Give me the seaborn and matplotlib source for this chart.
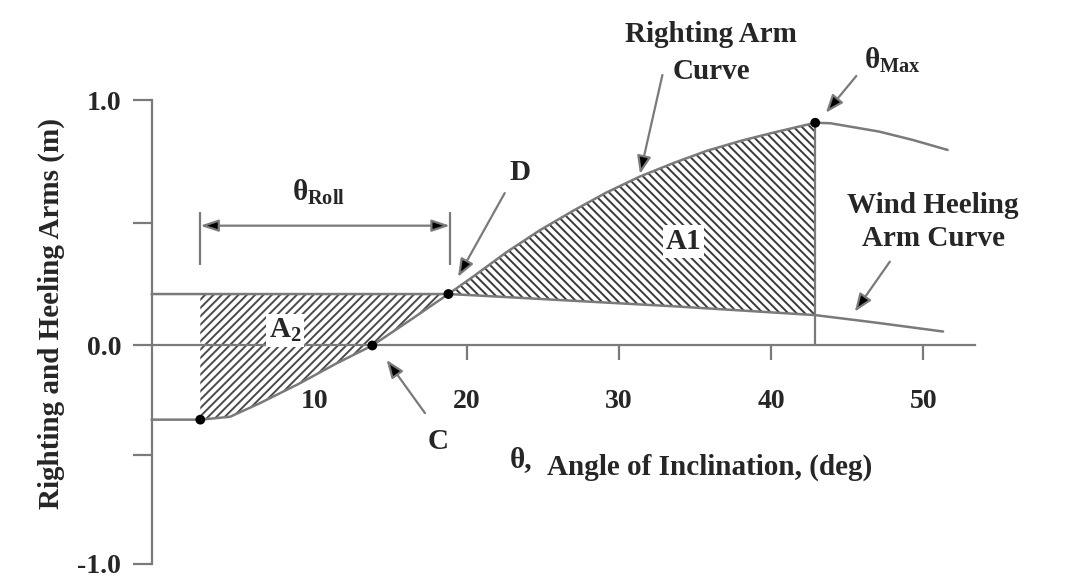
import numpy as np
import seaborn as sns
import matplotlib.pyplot as plt

# righting arm curve (deg, m)
ra_angle = [-0.7, 2.5, 4.45, 6.4, 9.05, 11.45, 13.8, 16.3, 18.8, 20.4, 22.6, 24.8, 27.0, 29.2,
            31.4, 33.6, 35.8, 38.0, 40.1, 42.9, 43.9, 47.1, 49.3, 51.6]
ra_arm = [-0.34, -0.34, -0.327, -0.265, -0.173, -0.082, 0.0, 0.104, 0.21, 0.28, 0.38, 0.47,
          0.55, 0.625, 0.69, 0.745, 0.795, 0.835, 0.868, 0.909, 0.907, 0.873, 0.839, 0.798]

# wind heeling arm curve
wh_angle = [-0.7, 18.8, 20.4, 24.8, 29.2, 33.6, 38.0, 42.9, 46.8, 51.3]
wh_arm = [0.21, 0.21, 0.205, 0.19, 0.175, 0.16, 0.143, 0.124, 0.094, 0.057]

# marked points: start of roll, C, D, theta max
pt_angle = [2.5, 13.8, 18.8, 42.9]
pt_arm = [-0.34, 0.0, 0.21, 0.909]

roll_from, roll_to = 2.5, 18.9
theta_max = 42.9

x_ticks = [10, 20, 30, 40, 50]
y_ticks = [-1.0, -0.5, 0.0, 0.5, 1.0]
y_tick_labels = ["-1.0", "", "0.0", "", "1.0"]

sns.set_theme(style="white")
plt.rcParams["font.family"] = ["Liberation Serif", "DejaVu Serif"]
plt.rcParams["font.weight"] = "bold"
plt.rcParams["mathtext.fontset"] = "custom"
plt.rcParams["mathtext.rm"] = "Liberation Serif:bold"
plt.rcParams["mathtext.it"] = "Liberation Serif:bold"
plt.rcParams["mathtext.bf"] = "Liberation Serif:bold"
plt.rcParams["hatch.linewidth"] = 1.4

line_c = "#7a7a7a"
fs = 21

fig = plt.figure(figsize=(10.72, 5.88), dpi=100)
ax = fig.add_axes([0, 0, 1, 1])


# the scanned axis is squeezed below zero
def fwd(v):
    v = np.asarray(v, float)
    return np.where(v < 0, v * 0.89, v)


def inv(u):
    u = np.asarray(u, float)
    return np.where(u < 0, u / 0.89, u)


ax.set_yscale("function", functions=(fwd, inv))
ax.set_xlim(-10.66, 59.77)
ax.set_ylim(-1.112, 1.41)

# hatched areas
a2_x = np.array(sorted(set([x for x in ra_angle + wh_angle if pt_angle[0] <= x <= pt_angle[2]])))
ax.fill_between(a2_x, np.interp(a2_x, ra_angle, ra_arm), np.interp(a2_x, wh_angle, wh_arm),
                facecolor="white", edgecolor="#4a4a4a", hatch="////", linewidth=0, zorder=2)
a1_x = np.array(sorted(set([x for x in ra_angle + wh_angle if pt_angle[2] <= x <= theta_max])))
ax.fill_between(a1_x, np.interp(a1_x, wh_angle, wh_arm), np.interp(a1_x, ra_angle, ra_arm),
                facecolor="white", edgecolor="#3a3a3a", hatch="\\\\\\\\", linewidth=0, zorder=2)

sns.lineplot(x=ra_angle, y=ra_arm, ax=ax, color=line_c, linewidth=1.8, zorder=3)
sns.lineplot(x=wh_angle, y=wh_arm, ax=ax, color=line_c, linewidth=1.8, zorder=3)
ax.vlines(theta_max, 0, pt_arm[3], color=line_c, linewidth=1.6, zorder=3)
sns.scatterplot(x=pt_angle, y=pt_arm, ax=ax, color="black", s=50, edgecolor="none", zorder=4)

# axes
for side in ["top", "right"]:
    ax.spines[side].set_visible(False)
for side in ["left", "bottom"]:
    ax.spines[side].set_color(line_c)
    ax.spines[side].set_linewidth(1.6)
ax.spines["left"].set_position(("data", -0.7))
ax.spines["left"].set_bounds(-1.0, 1.0)
ax.spines["bottom"].set_position(("data", 0))
ax.spines["bottom"].set_bounds(-0.7, 53.4)

ax.set_xticks(x_ticks)
ax.set_yticks(y_ticks)
ax.set_yticklabels(y_tick_labels)
ax.tick_params(axis="x", direction="out", length=11, width=1.6, color=line_c, pad=20,
               labelsize=20, bottom=True)
ax.tick_params(axis="y", direction="out", length=14, width=1.6, color=line_c, pad=8,
               labelsize=20, left=True)
for lab in ax.get_xticklabels() + ax.get_yticklabels():
    lab.set_fontweight("bold")

ax.set_ylabel("Righting and Heeling Arms (m)", fontsize=fs, fontweight="bold")
ax.yaxis.set_label_coords(0.0476, 0.466)
ax.yaxis.label.set_verticalalignment("center")
ax.text(23.6, -0.521, "θ,", fontsize=fs, ha="center", va="center")
ax.text(35.93, -0.557, "Angle of Inclination, (deg)", fontsize=fs, ha="center", va="center")

# annotations
arrow = dict(arrowstyle="-|>,head_length=0.9,head_width=0.35", ec=line_c, fc="black",
             lw=1.6, shrinkA=0, shrinkB=0)
ax.text(36.05, 1.194, "Righting Arm\nCurve", fontsize=fs, ha="center", va="center",
        linespacing=1.45)
ax.annotate("", xy=(31.39, 0.70), xytext=(32.86, 1.104), arrowprops=arrow)
ax.text(47.95, 1.165, r"$\theta_{\rm Max}$", fontsize=fs, ha="center", va="center")
ax.annotate("", xy=(43.6, 0.95), xytext=(45.6, 1.10), arrowprops=arrow)
ax.text(23.5, 0.704, "D", fontsize=fs, ha="center", va="center")
ax.annotate("", xy=(19.43, 0.28), xytext=(22.5, 0.622), arrowprops=arrow)
ax.text(18.13, -0.441, "C", fontsize=fs, ha="center", va="center")
ax.annotate("", xy=(14.74, -0.066), xytext=(17.26, -0.31), arrowprops=arrow)
ax.text(50.64, 0.504, "Wind Heeling\nArm Curve", fontsize=fs, ha="center", va="center",
        linespacing=1.3)
ax.annotate("", xy=(45.5, 0.138), xytext=(47.8, 0.342), arrowprops=arrow)

box = dict(facecolor="white", edgecolor="none", pad=2)
ax.text(34.23, 0.424, "A1", fontsize=fs, ha="center", va="center", bbox=box, zorder=5)
ax.text(8.06, 0.063, r"A$_{\rm 2}$", fontsize=fs, ha="center", va="center", bbox=box, zorder=5)

# roll period bracket
ax.vlines([roll_from, roll_to], 0.33, 0.545, color=line_c, linewidth=1.6)
ax.annotate("", xy=(roll_from, 0.489), xytext=(roll_to, 0.489),
            arrowprops=dict(arrowstyle="<|-|>,head_length=0.9,head_width=0.3", ec=line_c,
                            fc="black", lw=1.6, shrinkA=0, shrinkB=0))
ax.text(10.25, 0.626, r"$\theta_{\rm Roll}$", fontsize=fs, ha="center", va="center")

fig.savefig("out.png", dpi=100)
